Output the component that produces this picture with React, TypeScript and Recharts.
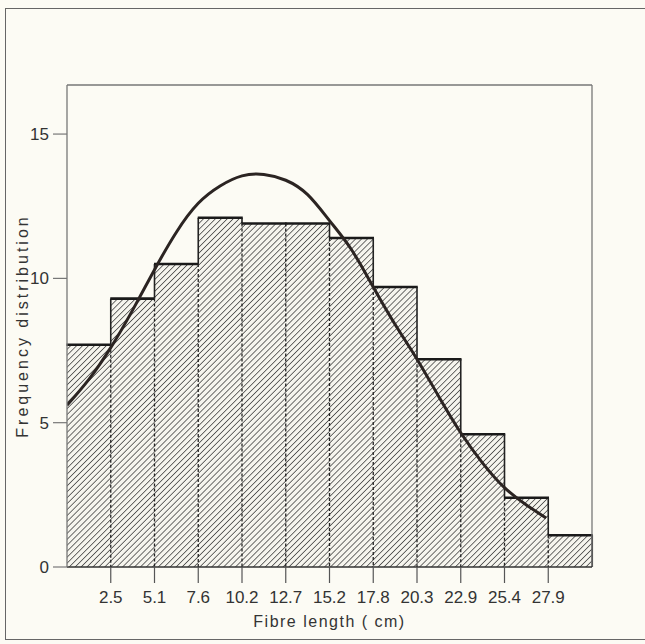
import React from "react";
import {
  ComposedChart,
  Bar,
  Line,
  XAxis,
  YAxis,
  ReferenceLine,
} from "recharts";

// class boundaries (cm) shown under the axis
const edgeLabels = ["2.5", "5.1", "7.6", "10.2", "12.7", "15.2", "17.8", "20.3", "22.9", "25.4", "27.9"];
// one bar per class interval
const binLabels = ["0-2.5", "2.5-5.1", "5.1-7.6", "7.6-10.2", "10.2-12.7", "12.7-15.2", "15.2-17.8", "17.8-20.3", "20.3-22.9", "22.9-25.4", "25.4-27.9", "27.9-30.5"];
const freqs = [7.7, 9.3, 10.5, 12.1, 11.9, 11.9, 11.4, 9.7, 7.2, 4.6, 2.4, 1.1];
// fitted curve, x in class-interval units
const curveX = [0, 0.5, 1, 1.5, 2, 2.5, 3, 3.5, 4, 4.5, 5, 5.5, 6, 6.5, 7, 7.5, 8, 8.5, 9, 9.5, 10, 10.5, 10.95];
const curveY = [5.6, 6.5, 7.6, 8.9, 10.3, 11.6, 12.6, 13.2, 13.55, 13.6, 13.4, 12.9, 12.0, 11.0, 9.7, 8.4, 7.2, 5.9, 4.65, 3.6, 2.75, 2.15, 1.7];
const yTicks = [0, 5, 10, 15];
const yMax = 16.7;

const bins = binLabels.map((bin, i) => ({ bin, freq: freqs[i] }));
const curve = curveX.map((u, i) => ({ u, v: curveY[i] }));
const edgeTicks = edgeLabels.map((_, i) => i + 1);

const ink = "#222";

const HatchBar = (props: any) => {
  const { x, y, width, height, index } = props;
  const bottom = y + height;
  const perUnit = height / freqs[index];
  const prevTop = index > 0 ? bottom - freqs[index - 1] * perUnit : bottom;
  const hi = Math.min(y, prevTop);
  const lo = Math.max(y, prevTop);
  const last = index === freqs.length - 1;
  return (
    <g>
      <rect x={x} y={y} width={width} height={height} fill="url(#hatch)" />
      {index > 0 && (
        <>
          <line x1={x} x2={x} y1={hi} y2={lo} stroke={ink} strokeWidth={1.6} />
          <line x1={x} x2={x} y1={lo} y2={bottom} stroke={ink} strokeWidth={1.3} strokeDasharray="3 2" />
        </>
      )}
      {last && <line x1={x + width} x2={x + width} y1={y} y2={bottom} stroke={ink} strokeWidth={1.6} />}
      <line x1={x - 0.5} x2={x + width + 0.5} y1={y} y2={y} stroke="#1a1a1a" strokeWidth={2.6} />
    </g>
  );
};

export default function App() {
  return (
    <div
      style={{
        position: "absolute",
        left: 0,
        top: 0,
        width: 645,
        height: 644,
        background: "#fcfbf4",
        overflow: "hidden",
        fontFamily: '"Liberation Sans", Arial, sans-serif',
      }}
    >
      <div
        style={{
          position: "absolute",
          left: 5,
          top: 8,
          width: 700,
          height: 630,
          borderTop: "1.5px solid #666",
          borderLeft: "1.5px solid #666",
          borderBottom: "1.5px solid #666",
        }}
      />
      <div style={{ position: "absolute", left: 0, top: 0 }}>
        <ComposedChart
          width={645}
          height={644}
          data={bins}
          margin={{ top: 85, right: 53, bottom: 0, left: 0 }}
          barCategoryGap={0}
        >
          <defs>
            <pattern id="hatch" patternUnits="userSpaceOnUse" width={4.2} height={4.2} patternTransform="rotate(45)">
              <rect width={4.2} height={4.2} fill="#f6f5ee" />
              <line x1={0} y1={0} x2={0} y2={4.2} stroke="#333" strokeWidth={1.4} />
            </pattern>
          </defs>
          <XAxis
            xAxisId="num"
            type="number"
            dataKey="u"
            domain={[0, 12]}
            allowDataOverflow
            ticks={edgeTicks}
            tickFormatter={(t: number) => edgeLabels[t - 1]}
            interval={0}
            height={77}
            tickSize={16}
            tickMargin={8}
            tick={{ fontSize: 17, fill: "#333" }}
            axisLine={{ stroke: "#333", strokeWidth: 1.6 }}
            tickLine={{ stroke: "#555", strokeWidth: 1.2 }}
            label={{
              value: "Fibre length ( cm)",
              position: "insideBottom",
              offset: 17,
              fill: "#333",
              style: { fontSize: 16, letterSpacing: 1.5 },
            }}
          />
          <XAxis xAxisId="cat" dataKey="bin" hide height={0} />
          <YAxis
            type="number"
            domain={[0, yMax]}
            ticks={yTicks}
            width={67}
            tickSize={14}
            tickMargin={4}
            tick={{ fontSize: 17, fill: "#333" }}
            axisLine={{ stroke: "#777", strokeWidth: 1.3 }}
            tickLine={{ stroke: "#777", strokeWidth: 1.2 }}
            label={{
              value: "Frequency distribution",
              angle: -90,
              position: "insideLeft",
              offset: 22,
              fill: "#333",
              style: { fontSize: 16, letterSpacing: 3, textAnchor: "middle" },
            }}
          />
          <ReferenceLine xAxisId="num" y={yMax} stroke="#777" strokeWidth={1.3} />
          <ReferenceLine xAxisId="num" x={12} stroke="#777" strokeWidth={1.3} />
          <Bar xAxisId="cat" dataKey="freq" shape={<HatchBar />} isAnimationActive={false} />
          <Line
            xAxisId="num"
            data={curve}
            dataKey="v"
            type="natural"
            stroke="#2b2422"
            strokeWidth={3}
            dot={false}
            activeDot={false}
            isAnimationActive={false}
          />
        </ComposedChart>
      </div>
    </div>
  );
}
